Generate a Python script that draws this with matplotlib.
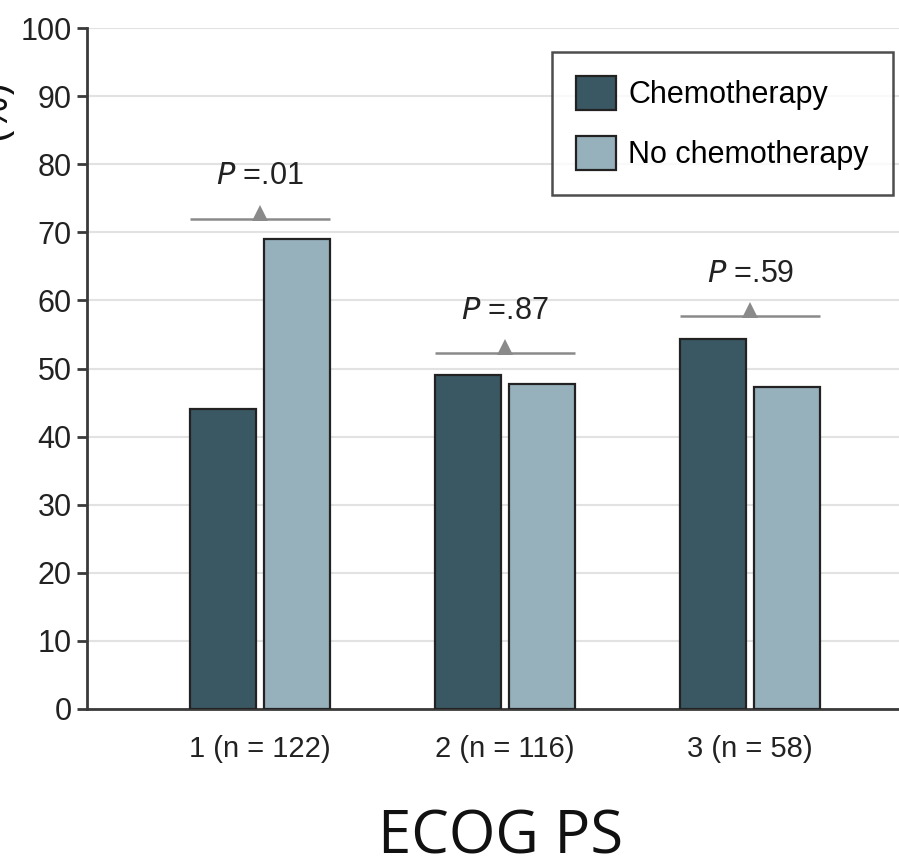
import matplotlib
matplotlib.use("Agg")
import matplotlib.pyplot as plt
import numpy as np
from matplotlib.patches import Patch

categories = ["1 (n = 122)", "2 (n = 116)", "3 (n = 58)"]
chemo = [44, 49, 54.3]
no_chemo = [69, 47.7, 47.3]
p_labels = ["=.01", "=.87", "=.59"]
bracket_y = [72, 52.3, 57.7]
series_names = ["Chemotherapy", "No chemotherapy"]
yticks = list(range(0, 101, 10))

c_dark = "#3a5863"
c_light = "#97b1bc"
edge = "#222222"
gray = "#8a8a8a"

fig = plt.figure(figsize=(8.99, 8.67), dpi=100)
ax = fig.add_axes([87/899, 1-709/867, (899-87)/899, (709-28)/867])

x = np.arange(len(categories))
w = 0.273
off = 0.151
ax.bar(x - off, chemo, w, color=c_dark, edgecolor=edge, linewidth=1.6, zorder=3)
ax.bar(x + off, no_chemo, w, color=c_light, edgecolor=edge, linewidth=1.6, zorder=3)

ax.set_xlim(-0.706, 2.608)
ax.set_ylim(0, 100)
ax.set_yticks(yticks)
ax.yaxis.grid(True, color="#e2e2e2", linewidth=1.5, zorder=0)
ax.set_axisbelow(True)
for s in ["top", "right"]:
    ax.spines[s].set_visible(False)
for s in ["left", "bottom"]:
    ax.spines[s].set_color("#3a3a3a")
    ax.spines[s].set_linewidth(2)
ax.tick_params(axis="y", length=7, width=2, color="#3a3a3a", labelsize=22, pad=4)
ax.tick_params(axis="x", length=0, labelsize=21, pad=19)
ax.set_xticks(x)
ax.set_xticklabels(categories)
for lab in ax.get_yticklabels() + ax.get_xticklabels():
    lab.set_fontfamily("Liberation Sans")
    lab.set_color("#222222")

for i in range(len(categories)):
    xl = i - off - w/2
    xr = i + off + w/2
    yb = bracket_y[i]
    ax.plot([xl, xr], [yb, yb], color=gray, linewidth=1.8, zorder=4, solid_capstyle="butt")
    ax.plot([i], [yb + 0.9], marker="^", markersize=11, color=gray, zorder=4, markeredgewidth=0)
    ax.text(i, yb + 4.0, r"$\it{P}$" + " " + p_labels[i], ha="center", va="bottom",
            fontsize=22, family="Liberation Sans", color="#222222")

handles = [Patch(facecolor=c_dark, edgecolor=edge, linewidth=1.6),
           Patch(facecolor=c_light, edgecolor=edge, linewidth=1.6)]
leg = ax.legend(handles, series_names, loc="upper right", bbox_to_anchor=((893-87)/812, (709-52)/681),
                prop={"family": "Liberation Sans", "size": 22},
                frameon=True, fancybox=False, edgecolor="#222222", handlelength=1.3, handleheight=1.3,
                borderpad=0.8, labelspacing=0.85, handletextpad=0.4, borderaxespad=0)
leg.get_frame().set_linewidth(1.8)

fig.text(501/899, 1-838/867, "ECOG PS", ha="center", va="center", fontsize=43, family="Open Sans", color="#111111")
fig.text(-0.028, 1-110/867, "(%)", rotation=90, ha="left", va="center", fontsize=30, family="Open Sans", color="#111111")

fig.savefig("out.png", dpi=100)
